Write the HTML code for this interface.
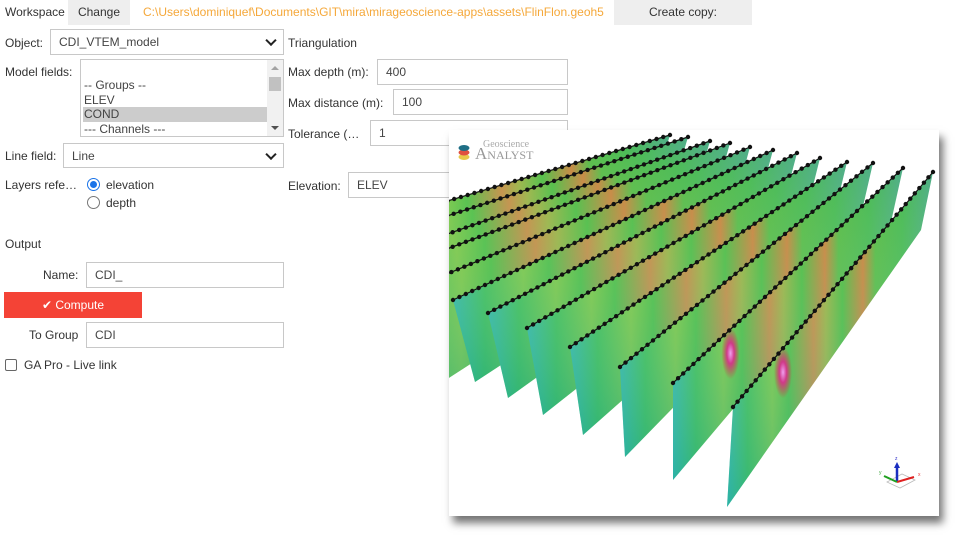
<!DOCTYPE html>
<html><head><meta charset="utf-8">
<style>
body{margin:0;width:960px;height:540px;background:#fff;position:relative;overflow:hidden;font-family:"Liberation Sans",sans-serif;font-size:12px;color:#333}
.a{position:absolute}
.lbl{position:absolute;font-size:12px;color:#333;white-space:nowrap}
.inp{position:absolute;border:1px solid #c8c8c8;background:#fff;box-sizing:border-box;padding-left:8px;font-size:12px;display:flex;align-items:center;color:#444}
.sel::after{content:"";position:absolute;right:8px;top:50%;width:6px;height:6px;border-right:2px solid #222;border-bottom:2px solid #222;transform:translateY(-70%) rotate(45deg)}
</style></head><body>
<div class="lbl" style="left:5px;top:5px">Workspace</div>
<div class="a" style="left:68px;top:0;width:62px;height:25px;background:#eee;text-align:center;line-height:25px">Change</div>
<div class="lbl" style="left:143px;top:5px;color:#f5a83a">C:\Users\dominiquef\Documents\GIT\mira\mirageoscience-apps\assets\FlinFlon.geoh5</div>
<div class="a" style="left:614px;top:0;width:138px;height:25px;background:#eee;text-align:center;line-height:25px">Create copy:</div>

<div class="lbl" style="left:5px;top:36px">Object:</div>
<div class="inp sel" style="left:50px;top:29px;width:234px;height:26px">CDI_VTEM_model</div>
<div class="lbl" style="left:5px;top:65px">Model fields:</div>
<div class="inp" style="left:80px;top:59px;width:204px;height:78px;padding:0;display:block;overflow:hidden">
 <div style="position:absolute;left:2px;top:18px;line-height:14.5px;width:184px">
  <div style="padding-left:1px">-- Groups --</div><div style="padding-left:1px">ELEV</div><div style="padding-left:1px;background:#ccc">COND</div><div style="padding-left:1px">--- Channels ---</div></div>
 <div style="position:absolute;right:0;top:0;width:16px;height:76px;background:#f1f1f1"></div>
 <div style="position:absolute;right:2px;top:17px;width:12px;height:14px;background:#c1c1c1"></div>
 <div style="position:absolute;right:4px;top:6px;border:4px solid transparent;border-bottom:4px solid #a3a3a3;border-top:0"></div>
 <div style="position:absolute;right:4px;bottom:6px;border:4px solid transparent;border-top:4px solid #505050;border-bottom:0"></div>
</div>
<div class="lbl" style="left:5px;top:149px">Line field:</div>
<div class="inp sel" style="left:63px;top:143px;width:221px;height:25px">Line</div>
<div class="lbl" style="left:5px;top:178px">Layers refe…</div>
<div class="a" style="left:87px;top:178px;width:11px;height:11px;border:1px solid #1a73e8;border-radius:50%"><div style="margin:2px;width:7px;height:7px;border-radius:50%;background:#1a73e8"></div></div>
<div class="lbl" style="left:106px;top:178px">elevation</div>
<div class="a" style="left:87px;top:196px;width:11px;height:11px;border:1px solid #777;border-radius:50%"></div>
<div class="lbl" style="left:106px;top:196px">depth</div>

<div class="lbl" style="left:5px;top:237px">Output</div>
<div class="lbl" style="left:43px;top:268px">Name:</div>
<div class="inp" style="left:86px;top:262px;width:198px;height:26px">CDI_</div>
<div class="a" style="left:4px;top:292px;width:138px;height:26px;background:#f44336;color:#fff;text-align:center;line-height:26px">✔ Compute</div>
<div class="lbl" style="left:29px;top:328px">To Group</div>
<div class="inp" style="left:86px;top:322px;width:198px;height:26px">CDI</div>
<div class="a" style="left:5px;top:359px;width:10px;height:10px;border:1px solid #666;border-radius:2px"></div>
<div class="lbl" style="left:24px;top:358px">GA Pro - Live link</div>

<div class="lbl" style="left:288px;top:36px">Triangulation</div>
<div class="lbl" style="left:288px;top:65px">Max depth (m):</div>
<div class="inp" style="left:377px;top:59px;width:191px;height:26px">400</div>
<div class="lbl" style="left:288px;top:96px">Max distance (m):</div>
<div class="inp" style="left:393px;top:89px;width:175px;height:26px">100</div>
<div class="lbl" style="left:288px;top:127px">Tolerance (…</div>
<div class="inp" style="left:370px;top:120px;width:198px;height:26px">1</div>
<div class="lbl" style="left:288px;top:179px">Elevation:</div>
<div class="inp" style="left:348px;top:172px;width:120px;height:26px">ELEV</div>

<div class="a" style="left:449px;top:130px;width:490px;height:386px;background:#fff;box-shadow:4px 7px 8px rgba(0,0,0,0.55)">
<svg id="v" width="490" height="386" viewBox="449 130 490 386" style="position:absolute;left:0;top:0">
<defs>
<clipPath id="cp"><rect x="449" y="130" width="490" height="386"/></clipPath>
<linearGradient id="g" x1="0" y1="0" x2="1" y2="0">
<stop offset="0" stop-color="#33b8a0"/><stop offset="0.1" stop-color="#3fbf4a"/><stop offset="0.22" stop-color="#7ec83a"/>
<stop offset="0.3" stop-color="#4cbe3a"/><stop offset="0.42" stop-color="#c78a3c"/><stop offset="0.48" stop-color="#9bb23e"/>
<stop offset="0.56" stop-color="#4cbc3e"/><stop offset="0.66" stop-color="#c8843a"/><stop offset="0.72" stop-color="#56bb44"/>
<stop offset="0.85" stop-color="#48ba52"/><stop offset="1" stop-color="#50ae88"/></linearGradient>
<linearGradient id="gv" x1="0" y1="0" x2="0" y2="1"><stop offset="0" stop-color="#fff" stop-opacity="0"/><stop offset="1" stop-color="#20a8b0" stop-opacity="0.4"/></linearGradient>
<radialGradient id="mg"><stop offset="0" stop-color="#f0a0f0"/><stop offset="0.4" stop-color="#d03a8a"/><stop offset="1" stop-color="#d03a3a" stop-opacity="0"/></radialGradient>
</defs>
<g id="sheets" clip-path="url(#cp)"></g>
<g>
<ellipse cx="464" cy="157" rx="5.5" ry="3" fill="#e8c84a"/><ellipse cx="464" cy="152.5" rx="5.5" ry="3" fill="#e05040"/><ellipse cx="464" cy="148" rx="5.5" ry="3" fill="#1f6f86"/>
<text x="483" y="147" font-family="Liberation Serif,serif" font-size="10" fill="#aaa">Geoscience</text>
<text x="475" y="159" font-family="Liberation Serif,serif" font-size="17" fill="#999">A<tspan font-size="12">NALYST</tspan></text></g>
<g transform="translate(897,480)">
<path d="M-10 2 L3 8 L18 0 L5 -6Z" fill="none" stroke="#bbb" stroke-width="0.8"/>
<line x1="0" y1="2" x2="0" y2="-14" stroke="#1a2ec0" stroke-width="2.5"/><path d="M-3 -12 L0 -18 L3 -12Z" fill="#1a2ec0"/>
<line x1="0" y1="2" x2="17" y2="-3" stroke="#e02020" stroke-width="2"/><line x1="0" y1="2" x2="-13" y2="-4" stroke="#20a020" stroke-width="2"/>
<text x="-2" y="-20" font-size="5" fill="#33c">z</text><text x="21" y="-4" font-size="5" fill="#e44">x</text><text x="-18" y="-6" font-size="5" fill="#4a4">y</text></g>
</svg></div>
<script>
// sheet geometry (back to front)
var tlx=[380,380,380,380,380,453,488,527,570,620,673,733];
var tly=[221,238,258,274,302,300,313,328,347,367,383,407];
var trx=[670,688,710,730,750,773,797,820,847,873,903,933];
var tryy=[135,137,141,143,147,150,153,158,162,163,168,172];
var ld=[105,105,105,105,105,82,85,87,88,90,97,100];
var ldx=[30,30,28,26,24,22,20,16,13,5,0,-6];
var rd=[40,41,42,43,44,45,46,48,50,52,54,58];
var ns="http://www.w3.org/2000/svg",G=document.getElementById('sheets');
for(var i=0;i<tlx.length;i++){
 var x1=tlx[i],y1=tly[i],x2=trx[i],y2=tryy[i];
 var pts=x1+','+y1+' '+x2+','+y2+' '+(x2-12)+','+(y2+rd[i])+' '+(x1+ldx[i])+','+(y1+ld[i]);
 var p=document.createElementNS(ns,'polygon');p.setAttribute('points',pts);p.setAttribute('fill','url(#g)');
 
 
 G.appendChild(p);
 var q=document.createElementNS(ns,'polygon');q.setAttribute('points',pts);q.setAttribute('fill','url(#gv)');
 
 
 G.appendChild(q);
 if(i>=10){var e=document.createElementNS(ns,'ellipse');var t=0.25;
  e.setAttribute('cx',x1+(x2-x1)*t);e.setAttribute('cy',y1+(y2-y1)*t+24);e.setAttribute('rx',9);e.setAttribute('ry',26);e.setAttribute('fill','url(#mg)');
  
  
  G.appendChild(e);}
 var l=document.createElementNS(ns,'line');l.setAttribute('x1',x1);l.setAttribute('y1',y1);l.setAttribute('x2',x2);l.setAttribute('y2',y2);l.setAttribute('stroke','#111');l.setAttribute('stroke-width','1.2');
 
 
 G.appendChild(l);
 var len=Math.hypot(x2-x1,y2-y1),n=Math.round(len/7);
 for(var k=0;k<=n;k++){var c=document.createElementNS(ns,'circle');c.setAttribute('cx',x1+(x2-x1)*k/n);c.setAttribute('cy',y1+(y2-y1)*k/n);c.setAttribute('r',2.2);c.setAttribute('fill','#111');
  
  
  G.appendChild(c);}
}
</script>
</body></html>
